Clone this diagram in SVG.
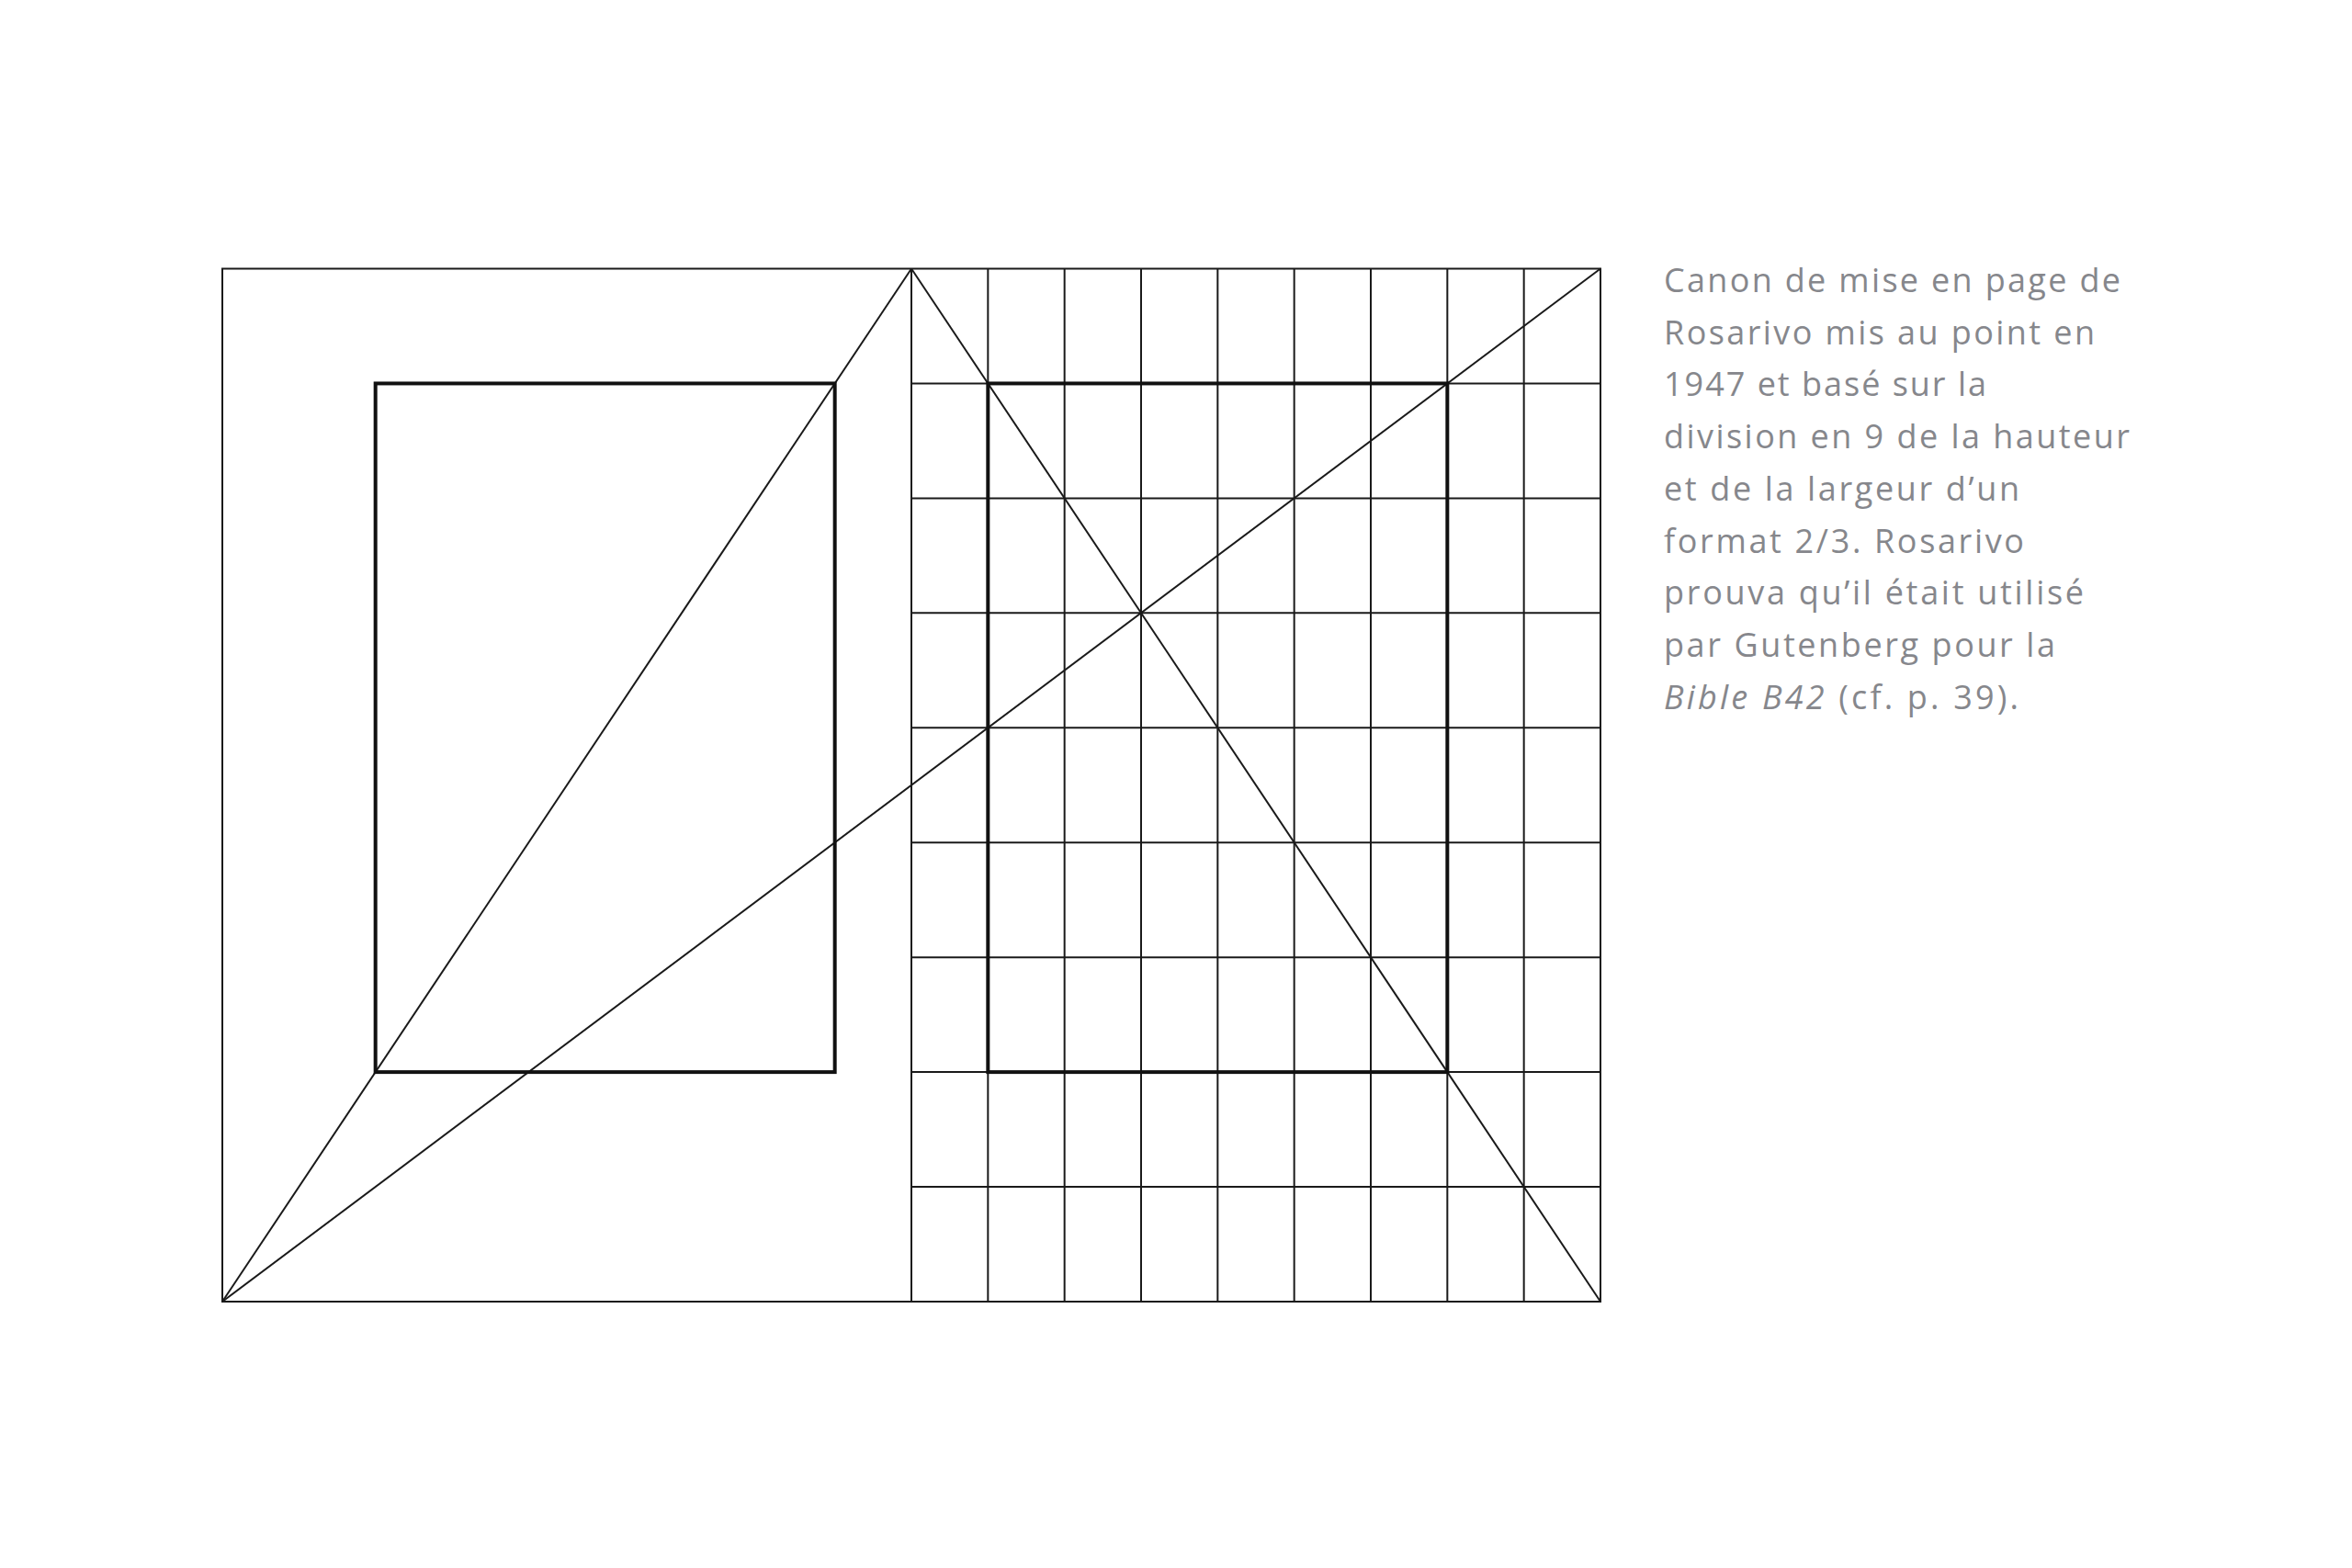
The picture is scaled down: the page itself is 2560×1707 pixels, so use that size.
<svg xmlns="http://www.w3.org/2000/svg" width="2560" height="1707" viewBox="0 0 2560 1707">
  <style>
    .thin { fill: none; stroke: #1a1a1a; stroke-width: 2; }
    .thick { fill: none; stroke: #111111; stroke-width: 4; }
    .cap { font-family: "Open Sans", "Liberation Sans", sans-serif; font-size: 36px; fill: #86878c; }
    .it { font-style: italic; }
  </style>
  <rect x="0" y="0" width="2560" height="1707" fill="#ffffff"/>

  <g id="grid">
    <g id="grid-columns" class="thin">
      <line x1="1075.33" y1="292.5" x2="1075.33" y2="1417"/>
      <line x1="1158.67" y1="292.5" x2="1158.67" y2="1417"/>
      <line x1="1242" y1="292.5" x2="1242" y2="1417"/>
      <line x1="1325.33" y1="292.5" x2="1325.33" y2="1417"/>
      <line x1="1408.67" y1="292.5" x2="1408.67" y2="1417"/>
      <line x1="1492" y1="292.5" x2="1492" y2="1417"/>
      <line x1="1575.33" y1="292.5" x2="1575.33" y2="1417"/>
      <line x1="1658.67" y1="292.5" x2="1658.67" y2="1417"/>
    </g>
    <g id="grid-rows" class="thin">
      <line x1="992" y1="417.44" x2="1742" y2="417.44"/>
      <line x1="992" y1="542.39" x2="1742" y2="542.39"/>
      <line x1="992" y1="667.33" x2="1742" y2="667.33"/>
      <line x1="992" y1="792.28" x2="1742" y2="792.28"/>
      <line x1="992" y1="917.22" x2="1742" y2="917.22"/>
      <line x1="992" y1="1042.17" x2="1742" y2="1042.17"/>
      <line x1="992" y1="1167.11" x2="1742" y2="1167.11"/>
      <line x1="992" y1="1292.06" x2="1742" y2="1292.06"/>
    </g>
  </g>

  <g id="pages">
    <rect id="spread" class="thin" x="242" y="292.5" width="1500" height="1124.5"/>
    <line id="spine" class="thin" x1="992" y1="292.5" x2="992" y2="1417"/>
  </g>

  <g id="connectors" class="thin">
    <line id="diag-left-page" x1="242" y1="1417" x2="992" y2="292.5"/>
    <line id="diag-spread" x1="242" y1="1417" x2="1742" y2="292.5"/>
    <line id="diag-right-page" x1="992" y1="292.5" x2="1742" y2="1417"/>
  </g>

  <g id="text-block-left">
    <rect class="thick" x="408.67" y="417.44" width="500" height="749.67"/>
  </g>
  <g id="text-block-right">
    <rect class="thick" x="1075.33" y="417.44" width="500" height="749.67"/>
  </g>

  <g id="caption" class="cap">
    <text x="1811" y="318" textLength="497" lengthAdjust="spacing">Canon de mise en page de</text>
    <text x="1811" y="374.7" textLength="469" lengthAdjust="spacing">Rosarivo mis au point en</text>
    <text x="1811" y="431.4" textLength="351" lengthAdjust="spacing">1947 et basé sur la</text>
    <text x="1811" y="488.1" textLength="507" lengthAdjust="spacing">division en 9 de la hauteur</text>
    <text x="1811" y="544.8" textLength="387" lengthAdjust="spacing">et de la largeur d’un</text>
    <text x="1811" y="601.5" textLength="392" lengthAdjust="spacing">format 2/3. Rosarivo</text>
    <text x="1811" y="658.2" textLength="457" lengthAdjust="spacing">prouva qu’il était utilisé</text>
    <text x="1811" y="714.9" textLength="426" lengthAdjust="spacing">par Gutenberg pour la</text>
    <text x="1811" y="771.6" textLength="386" lengthAdjust="spacing"><tspan class="it">Bible B42</tspan> (cf. p. 39).</text>
  </g>
</svg>
